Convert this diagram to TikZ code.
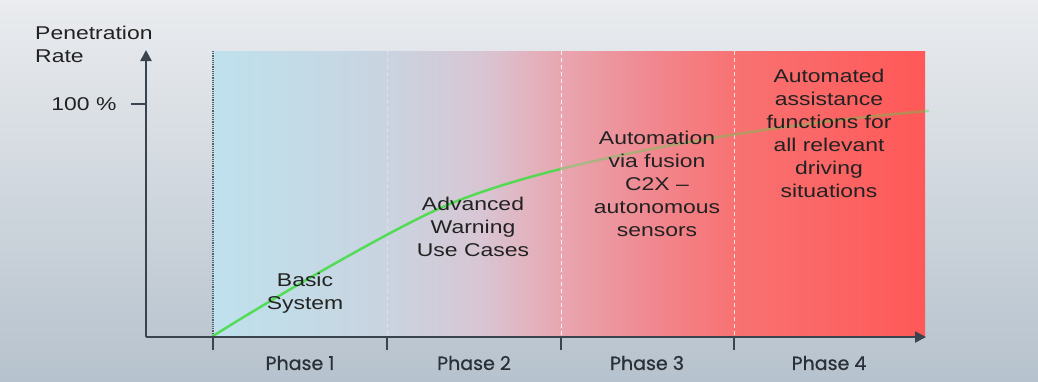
\documentclass[tikz,border=0pt]{standalone}
\usepackage{fontspec}
\setmainfont{Liberation Sans}
\newfontfamily\lab[FakeStretch=1.24]{Liberation Sans}
\newfontfamily\phfont[FakeBold=0.6]{Poppins}
\usetikzlibrary{arrows.meta}
\definecolor{axiscol}{HTML}{3A444E}
\definecolor{bgtop}{HTML}{EAECEF}
\definecolor{bgbot}{HTML}{B6C2CD}
\definecolor{g1}{HTML}{BEE1ED}
\definecolor{g2}{HTML}{C9D4E0}
\definecolor{g3}{HTML}{D8C6D4}
\definecolor{g4}{HTML}{E8A6B0}
\definecolor{g5}{HTML}{F08890}
\definecolor{g6}{HTML}{F87272}
\definecolor{g7}{HTML}{FF5858}
\definecolor{txt}{HTML}{222222}
\definecolor{curvecol}{HTML}{48DC48}
\tikzset{
  axisline/.style={draw=axiscol, line width=2.4pt},
  tickline/.style={draw=axiscol, line width=2.4pt},
  label/.style={text=txt, align=center, font=\lab\fontsize{18.5}{23}\selectfont, inner sep=0pt},
  phaselabel/.style={text=axiscol!70!black, font=\phfont\fontsize{19}{20}\selectfont, inner sep=0pt},
  sep/.style={draw=white, line width=1pt, dash pattern=on 4pt off 3pt},
  curveline/.style={draw=curvecol, line width=2.5pt, line cap=round}
}
\begin{document}
\begin{tikzpicture}[x=1pt,y=-1pt]
\useasboundingbox (0,0) rectangle (1038,381);
\fill[top color=bgtop, bottom color=bgbot] (0,0) rectangle (1038,381);
% gradient band
\fill[left color=g1, right color=g2] (213,51) rectangle (388,337);
\fill[left color=g2, right color=g3] (387,51) rectangle (481,337);
\fill[left color=g3, right color=g4] (480,51) rectangle (562,337);
\fill[left color=g4, right color=g5] (561,51) rectangle (651,337);
\fill[left color=g5, right color=g6] (650,51) rectangle (735,337);
\fill[left color=g6, right color=g7] (734,51) rectangle (925,337);
% phase separators
\draw[axiscol!85, line width=1.2pt, densely dotted] (213,51) -- (213,337);
\draw[sep, opacity=0.35] (387,51) -- (387,337);
\draw[sep, opacity=0.8] (561,51) -- (561,337);
\draw[sep, opacity=0.8] (734,51) -- (734,337);
% curve
\coordinate (c0) at (213,336);
\coordinate (cm) at (436,210);
\coordinate (c3) at (928,111);
\def\curvepath{(c0) .. controls (288,289) and (390,231) .. (cm) .. controls (540,162) and (760,125) .. (c3)}
\begin{scope}
\clip (200,0) rectangle (560,381);
\draw[curveline, opacity=0.9] \curvepath;
\end{scope}
\begin{scope}
\clip (560,0) rectangle (1038,381);
\draw[curveline, opacity=0.38] \curvepath;
\end{scope}
% axes
\coordinate (O) at (146,337);
\coordinate (ytop) at (146,50);
\coordinate (xend) at (926,337);
\draw[axisline, -{Triangle[length=11pt,width=11pt]}] (O) -- (ytop);
\draw[axisline, -{Triangle[length=11pt,width=11pt]}] (O) -- (xend);
\coordinate (t100) at (131,104);
\coordinate (t100b) at (146,104);
\draw[tickline] (t100) -- (t100b);
\foreach \x/\n in {213/a,387/b,561/c,734/d}{
  \coordinate (tk\n) at (\x,337);
  \coordinate (tke\n) at (\x,350);
  \draw[tickline] (tk\n) -- (tke\n);
}
% labels
\node[label, anchor=base west, align=left] (ylab) at (35,62) {Penetration\\Rate};
\node[label] (hundred) at (84,104) {100 \%};
\node[phaselabel] (p1) at (300,363) {Phase 1};
\node[phaselabel] (p2) at (474,363) {Phase 2};
\node[phaselabel] (p3) at (647,363) {Phase 3};
\node[phaselabel] (p4) at (829,363) {Phase 4};
\node[label] (basic) at (305,293) {Basic\\System};
\node[label] (adv) at (473,227) {Advanced\\Warning\\Use Cases};
\node[label] (auto) at (657,184) {Automation\\via fusion\\C2X –\\autonomous\\sensors};
\node[label] (full) at (829,133) {Automated\\assistance\\functions for\\all relevant\\driving\\situations};
\end{tikzpicture}
\end{document}
